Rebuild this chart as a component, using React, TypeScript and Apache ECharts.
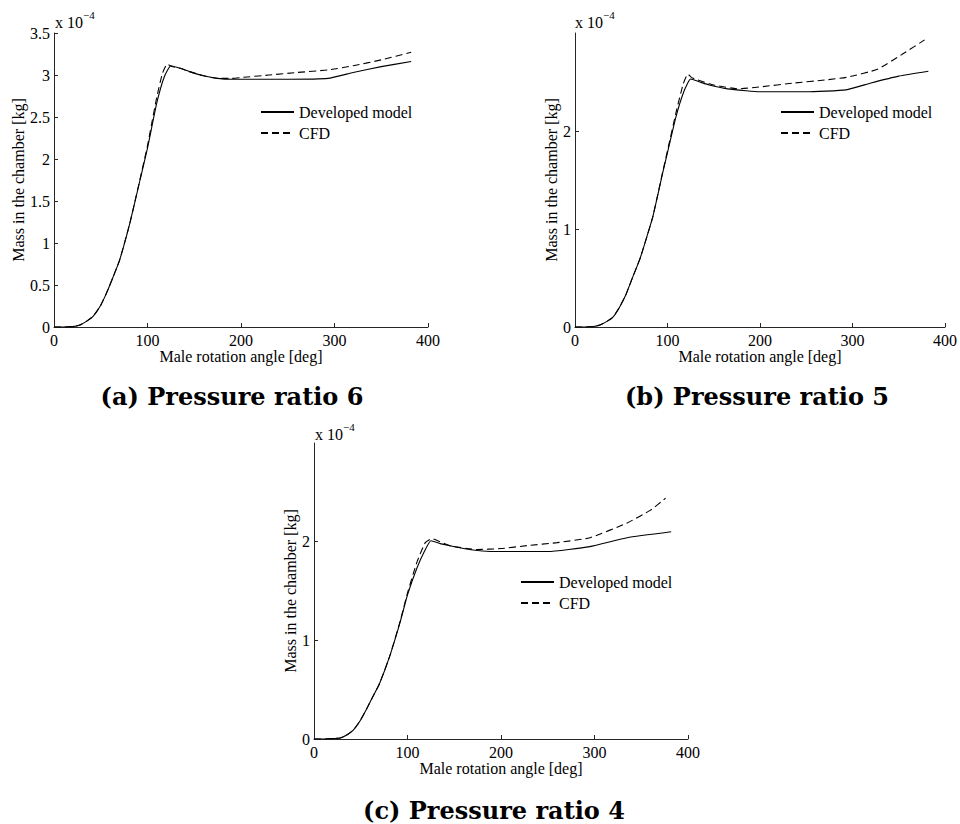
import React, { useEffect, useRef } from "react";
import * as echarts from "echarts";

// ---- Data (mass in units of 1e-4 kg vs male rotation angle in deg) ----
const X_TICK_MAX = 400;

// (a) Pressure ratio 6
const A_SOLID_X = [0, 10, 20, 27, 35, 42, 50, 56, 63, 70, 81, 92, 100, 110, 118, 125, 135, 145, 160, 175, 190, 220, 250, 293, 320, 350, 382];
const A_SOLID_Y = [0, 0, 0.005, 0.02, 0.07, 0.13, 0.26, 0.40, 0.59, 0.79, 1.23, 1.75, 2.13, 2.67, 2.98, 3.11, 3.08, 3.04, 2.99, 2.96, 2.95, 2.95, 2.95, 2.96, 3.03, 3.10, 3.16];
const A_CFD_X = [0, 10, 20, 27, 35, 42, 50, 56, 63, 70, 81, 92, 100, 110, 116, 121, 126, 135, 145, 160, 175, 190, 200, 230, 260, 293, 320, 350, 382];
const A_CFD_Y = [0, 0, 0.005, 0.02, 0.07, 0.13, 0.26, 0.40, 0.59, 0.79, 1.23, 1.76, 2.16, 2.74, 3.02, 3.13, 3.10, 3.08, 3.04, 2.99, 2.96, 2.96, 2.97, 3.0, 3.03, 3.06, 3.11, 3.18, 3.27];

// (b) Pressure ratio 5
const B_SOLID_X = [0, 10, 20, 27, 35, 41, 48, 55, 62, 70, 77, 84, 95, 100, 109, 118, 125, 135, 145, 165, 185, 200, 250, 293, 320, 350, 382];
const B_SOLID_Y = [0, 0, 0.005, 0.02, 0.06, 0.10, 0.20, 0.33, 0.50, 0.69, 0.90, 1.12, 1.58, 1.78, 2.14, 2.41, 2.53, 2.50, 2.47, 2.43, 2.41, 2.40, 2.40, 2.42, 2.49, 2.56, 2.61];
const B_CFD_X = [0, 10, 20, 27, 35, 41, 48, 55, 62, 70, 77, 84, 95, 100, 110, 117, 122, 127, 150, 177, 200, 237, 270, 295, 327, 355, 378];
const B_CFD_Y = [0, 0, 0.005, 0.02, 0.06, 0.10, 0.20, 0.33, 0.50, 0.69, 0.90, 1.12, 1.59, 1.80, 2.22, 2.48, 2.58, 2.54, 2.47, 2.43, 2.45, 2.49, 2.52, 2.55, 2.63, 2.79, 2.93];

// (c) Pressure ratio 4
const C_SOLID_X = [0, 10, 20, 28, 35, 42, 49, 56, 63, 70, 81, 92, 100, 110, 118, 125, 135, 145, 160, 175, 192, 250, 295, 335, 382];
const C_SOLID_Y = [0, 0, 0.005, 0.01, 0.04, 0.09, 0.18, 0.30, 0.43, 0.56, 0.84, 1.18, 1.46, 1.73, 1.90, 2.01, 1.98, 1.96, 1.93, 1.91, 1.90, 1.90, 1.95, 2.04, 2.10];
const C_CFD_X = [0, 10, 20, 28, 35, 42, 49, 56, 63, 70, 81, 92, 100, 110, 119, 126, 145, 174, 200, 228, 260, 295, 335, 360, 376];
const C_CFD_Y = [0, 0, 0.005, 0.01, 0.04, 0.09, 0.18, 0.30, 0.43, 0.56, 0.84, 1.19, 1.48, 1.79, 1.99, 2.03, 1.96, 1.92, 1.93, 1.96, 1.99, 2.04, 2.19, 2.32, 2.44];

const SERIES_NAMES = ["Developed model", "CFD"];
const CAPTIONS = ["(a) Pressure ratio 6", "(b) Pressure ratio 5", "(c) Pressure ratio 4"];
const X_NAME = "Male rotation angle [deg]";
const Y_NAME = "Mass in the chamber [kg]";
const SCALE_BASE = "x 10";
const SCALE_EXP = "\u22124";

const pairs = (xs: number[], ys: number[]) => xs.map((x, i) => [x, ys[i]]);

const SERIF = "'Liberation Serif', 'Times New Roman', serif";
const AXIS_COLOR = "#262626";

export default function App() {
  const ref = useRef<HTMLDivElement>(null);

  useEffect(() => {
    document.body.style.margin = "0";
    const chart = echarts.init(ref.current!, null, { renderer: "svg" });

    const grids = [
      { left: 54, top: 33, width: 374, height: 294 },
      { left: 575, top: 33, width: 373, height: 294 },
      { left: 314, top: 443, width: 374, height: 296 },
    ];

    const yConf = [
      { max: 3.5, interval: 0.5, gap: 27, custom: null as number[] | null },
      { max: 3, interval: 1, gap: 15, custom: [0, 1, 2] },
      { max: 3, interval: 1, gap: 15, custom: [0, 1, 2] },
    ];

    const xAxes = grids.map((_, i) => ({
      type: "value",
      gridIndex: i,
      min: 0,
      max: X_TICK_MAX,
      interval: 100,
      name: X_NAME,
      nameLocation: "middle",
      nameGap: 20,
      nameTextStyle: { fontFamily: SERIF, fontSize: 16, color: "#000" },
      axisLine: { show: true, onZero: false, lineStyle: { color: AXIS_COLOR, width: 1 } },
      axisTick: { show: true, inside: true, length: 4, lineStyle: { color: AXIS_COLOR } },
      axisLabel: { margin: 5, fontFamily: SERIF, fontSize: 16, color: "#000" },
      splitLine: { show: false },
    }));

    const yAxes = grids.map((_, i) => {
      const c = yConf[i];
      const axisLabel: any = {
        margin: 4,
        fontFamily: SERIF,
        fontSize: 16,
        color: "#000",
        formatter: (v: number) => (c.custom && !c.custom.includes(v) ? "" : String(v)),
      };
      const axisTick: any = { show: true, inside: true, length: 4, lineStyle: { color: AXIS_COLOR } };
      if (c.custom) {
        axisLabel.customValues = c.custom;
        axisTick.customValues = c.custom;
      }
      return {
        type: "value",
        gridIndex: i,
        min: 0,
        max: c.max,
        interval: c.interval,
        name: Y_NAME,
        nameLocation: "middle",
        nameGap: c.gap,
        nameTextStyle: { fontFamily: SERIF, fontSize: 16, color: "#000" },
        axisLine: { show: true, onZero: false, lineStyle: { color: AXIS_COLOR, width: 1 } },
        axisTick,
        axisLabel,
        splitLine: { show: false },
      };
    });

    const data = [
      [pairs(A_SOLID_X, A_SOLID_Y), pairs(A_CFD_X, A_CFD_Y)],
      [pairs(B_SOLID_X, B_SOLID_Y), pairs(B_CFD_X, B_CFD_Y)],
      [pairs(C_SOLID_X, C_SOLID_Y), pairs(C_CFD_X, C_CFD_Y)],
    ];

    const series: any[] = [];
    data.forEach((d, i) => {
      series.push({
        type: "line",
        name: SERIES_NAMES[0],
        xAxisIndex: i,
        yAxisIndex: i,
        data: d[0],
        symbol: "none",
        smooth: 0.15,
        lineStyle: { color: "#000", width: 1.1, type: "solid" },
        itemStyle: { color: "#000" },
      });
      series.push({
        type: "line",
        name: SERIES_NAMES[1],
        xAxisIndex: i,
        yAxisIndex: i,
        data: d[1],
        symbol: "none",
        smooth: 0.15,
        lineStyle: { color: "#000", width: 1.1, type: [7, 4] },
        itemStyle: { color: "#000" },
      });
    });

    const legendPos = [
      { left: 260, top: 104 },
      { left: 780, top: 104 },
      { left: 520, top: 574 },
    ];
    const legends = legendPos.map((p) => ({
      ...p,
      orient: "vertical",
      padding: 0,
      data: SERIES_NAMES,
      itemWidth: 33,
      itemHeight: 14,
      itemGap: 5,
      selectedMode: false,
      itemStyle: { opacity: 0, borderWidth: 0 },
      textStyle: { fontFamily: SERIF, fontSize: 16, color: "#000" },
    }));

    const scalePos = [
      { x: 55, y: 22.5, sx: 83, sy: 15 },
      { x: 575, y: 22.5, sx: 603, sy: 15 },
      { x: 315, y: 434.5, sx: 343, sy: 427 },
    ];
    const captionPos = [
      { x: 232, y: 396 },
      { x: 757, y: 396 },
      { x: 494, y: 810 },
    ];

    const graphic: any[] = [];
    scalePos.forEach((p) => {
      graphic.push({
        type: "text",
        x: p.x,
        y: p.y,
        style: { text: SCALE_BASE, fontFamily: SERIF, fontSize: 16, fill: "#000", verticalAlign: "middle", align: "left" },
      });
      graphic.push({
        type: "text",
        x: p.sx,
        y: p.sy,
        style: { text: SCALE_EXP, fontFamily: SERIF, fontSize: 11, fill: "#000", verticalAlign: "middle", align: "left" },
      });
    });
    captionPos.forEach((p, i) => {
      graphic.push({
        type: "text",
        x: p.x,
        y: p.y,
        style: {
          text: CAPTIONS[i],
          fontFamily: "'DejaVu Serif', serif",
          fontWeight: "bold",
          fontSize: 24,
          fill: "#000",
          align: "center",
          verticalAlign: "middle",
        },
      });
    });

    chart.setOption({
      animation: false,
      backgroundColor: "#fff",
      grid: grids,
      xAxis: xAxes,
      yAxis: yAxes,
      legend: legends,
      series,
      graphic,
    });

    return () => chart.dispose();
  }, []);

  return <div ref={ref} style={{ width: 960, height: 824 }} />;
}
